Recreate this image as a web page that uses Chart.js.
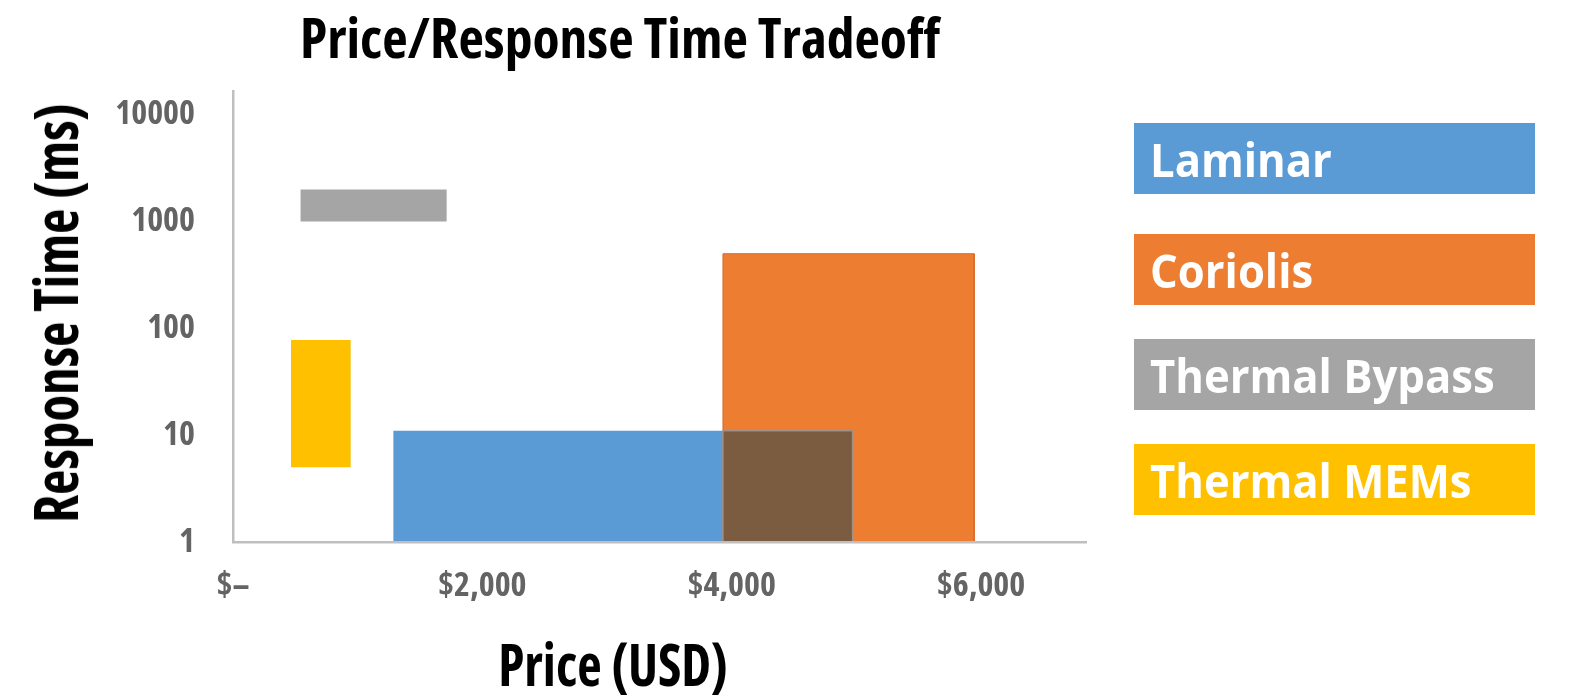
<!DOCTYPE html>
<html><head><meta charset="utf-8">
<script src="https://cdn.jsdelivr.net/npm/chart.js@4/dist/chart.umd.min.js"></script>
<style>
html,body{margin:0;padding:0;background:#fff;width:1571px;height:698px;overflow:hidden;}
#wrap{position:relative;width:1571px;height:698px;}
#c{position:absolute;left:0;top:0;width:1571px;height:698px;}
.ttl{position:absolute;font-weight:bold;color:#000;line-height:1;white-space:nowrap;}
.leg{position:absolute;left:1134px;width:401px;height:71px;}
.leg span{position:absolute;left:16px;top:1px;line-height:71px;font-family:'Open Sans',sans-serif;font-weight:700;font-size:46px;color:#fff;white-space:nowrap;transform-origin:left center;}
</style></head><body>
<div id="wrap">
<canvas id="c" width="1571" height="698"></canvas>
<div id="title" class="ttl" style="font-size:56px;">Price/Response Time Tradeoff</div>
<div id="xtitle" class="ttl" style="font-size:59px;">Price (USD)</div>
<div id="ytitle" class="ttl" style="font-size:60px;">Response Time (ms)</div>
<div id="legend"></div>
</div>
<script>
// ---- data ----
const categories = ['Laminar', 'Coriolis', 'Thermal Bypass', 'Thermal MEMs'];
const priceLow  = [1285, 3930, 540, 465];     // USD
const priceHigh = [4970, 5945, 1715, 945];    // USD
const timeLow   = [1, 1, 1000, 5];            // ms
const timeHigh  = [11, 500, 2000, 78];        // ms
const seriesColors = ['#5B9BD5', '#ED7D31', '#A5A5A5', '#FFC000'];
const overlapColor = '#7B5C40';
const xTicks = [0, 2000, 4000, 6000];
const yTicks = [1, 10, 100, 1000, 10000];

// pick a condensed bold face if one is installed (variable width fonts)
function pickCondensed() {
  const c = document.createElement('canvas').getContext('2d');
  const cands = ["'Open Sans'", "'Noto Sans'", "Roboto"];
  for (const f of cands) {
    c.font = 'bold 40px ' + f;
    const w1 = c.measureText('Response 10000').width;
    c.font = 'bold condensed 40px ' + f;
    const w2 = c.measureText('Response 10000').width;
    if (w2 < w1 * 0.9) return {family: f, stretch: 'condensed', cond: true};
  }
  return {family: "'DejaVu Sans Condensed', sans-serif", stretch: '', cond: false};
}
const CF = pickCondensed();

function rectPoints(x0, x1, y0, y1) {
  return [{x: x0, y: y0}, {x: x0, y: y1}, {x: x1, y: y1}, {x: x1, y: y0}];
}

const drawOrder = [2, 1, 3, 4];
const datasets = categories.map((name, i) => ({
  label: name,
  data: rectPoints(priceLow[i], priceHigh[i], timeLow[i], timeHigh[i]),
  fill: {value: timeLow[i]},
  backgroundColor: seriesColors[i],
  borderColor: i === 1 ? '#D9692B' : 'rgba(0,0,0,0)',
  borderWidth: 1,
  pointRadius: 0,
  order: drawOrder[i]
}));
// overlap of Laminar and Coriolis
const ox0 = Math.max(priceLow[0], priceLow[1]), ox1 = Math.min(priceHigh[0], priceHigh[1]);
const oy0 = Math.max(timeLow[0], timeLow[1]), oy1 = Math.min(timeHigh[0], timeHigh[1]);
datasets.push({
  label: 'Laminar ∩ Coriolis',
  data: rectPoints(ox0, ox1, oy0, oy1),
  fill: {value: oy0},
  backgroundColor: overlapColor,
  borderColor: 'rgba(150,150,150,0.85)',
  borderWidth: 1.5,
  pointRadius: 0,
  order: 0
});

const tickFont = {
  family: CF.family,
  weight: CF.cond ? 'bold condensed' : 'bold',
  size: CF.cond ? 34 : 28
};
new Chart(document.getElementById('c'), {
  type: 'line',
  data: {datasets},
  options: {
    responsive: false,
    devicePixelRatio: 1,
    animation: false,
    events: [],
    layout: {autoPadding: false, padding: {top: 91, right: 485, bottom: 0, left: 0}},
    plugins: {legend: {display: false}, title: {display: false}, tooltip: {enabled: false}},
    scales: {
      x: {
        type: 'linear', position: 'bottom', min: 0, max: 6842,
        grid: {display: false, drawTicks: false},
        border: {display: true, color: '#BFBFBF', width: 2.5, z: 1},
        afterBuildTicks: s => { s.ticks = xTicks.map(v => ({value: v})); },
        afterFit: s => { s.height = 156; },
        ticks: {
          font: tickFont, color: '#646464', padding: 24, maxRotation: 0,
          callback: v => v === 0 ? '$–' : '$' + v.toLocaleString('en-US')
        }
      },
      y: {
        type: 'logarithmic', position: 'left', min: 1, max: 16700,
        grid: {display: false, drawTicks: false},
        border: {display: true, color: '#BFBFBF', width: 2.5, z: 1},
        afterBuildTicks: s => { s.ticks = yTicks.map(v => ({value: v})); },
        afterFit: s => { s.width = 233; },
        ticks: {font: tickFont, color: '#646464', padding: 38, callback: v => String(v)}
      }
    }
  }
});

// ---- HTML titles (real text) ----
function place(id, cx, top, targetW, rotate) {
  const el = document.getElementById(id);
  el.style.fontFamily = CF.family;
  if (CF.cond) el.style.fontStretch = 'condensed';
  const s = targetW / el.offsetWidth;
  el.style.left = cx + 'px';
  el.style.top = top + 'px';
  el.style.transform = rotate
    ? 'translate(-50%,-50%) rotate(-90deg) scaleX(' + s + ')'
    : 'translateX(-50%) scaleX(' + s + ')';
}
place('title', 620, CF.cond ? 8 : 14, 640, false);
place('xtitle', 613, CF.cond ? 634 : 640, 230, false);
place('ytitle', 55, 313, 420, true);

// ---- legend ----
const legend = document.getElementById('legend');
const legTops = [123, 234, 339, 444];
const spans = [];
categories.forEach((name, i) => {
  const box = document.createElement('div');
  box.className = 'leg';
  box.style.top = legTops[i] + 'px';
  box.style.background = seriesColors[i];
  const sp = document.createElement('span');
  sp.textContent = name;
  box.appendChild(sp);
  legend.appendChild(box);
  spans.push(sp);
});
const legScale = 345 / spans[2].offsetWidth;
spans.forEach(sp => sp.style.transform = 'scaleX(' + legScale + ')');
</script>
</body></html>
